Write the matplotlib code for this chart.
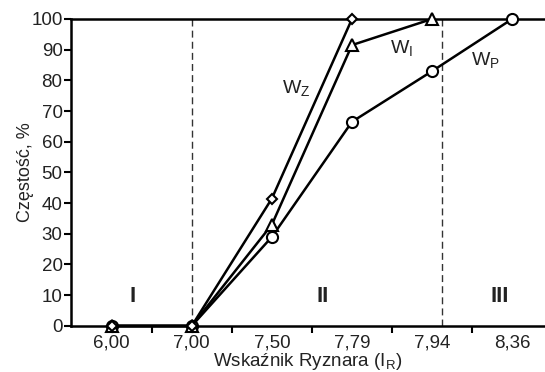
import numpy as np
import matplotlib.pyplot as plt

plt.rcParams['font.family'] = ['Liberation Sans', 'DejaVu Sans']
plt.rcParams['mathtext.fontset'] = 'custom'
plt.rcParams['mathtext.rm'] = 'Liberation Sans'
plt.rcParams['mathtext.it'] = 'Liberation Sans'

# kategorie osi X (wskaznik Ryznara)
categories = ['6,00', '7,00', '7,50', '7,79', '7,94', '8,36']
# czestosc, %
w_z = [0, 0, 41.5, 100]
w_i = [0, 0, 33, 91.5, 100]
w_p = [0, 0, 29, 66.5, 83, 100]
zone_labels = ['I', 'II', 'III']
zone_x = [0.26, 2.63, 4.84]
zone_y = 9.5
zone_borders = [1.0, 4.13]

fig = plt.figure(figsize=(5.45, 3.72), dpi=100)
ax = fig.add_axes([0.130, 0.124, 0.870, 0.825])

style = dict(color='black', lw=1.8, markerfacecolor='white', markeredgecolor='black',
             markeredgewidth=1.5, clip_on=False)
ax.plot(range(len(w_p)), w_p, marker='o', ms=8, zorder=3, **style)
ax.plot(range(len(w_i)), w_i, marker='^', ms=8, zorder=4, **style)
ax.plot(range(len(w_z)), w_z, marker='D', ms=5, zorder=5, **style)

for xb in zone_borders:
    ax.axvline(xb, color='#333333', lw=1.0, ls=(0, (5, 3)), zorder=1)

for lab, xx in zip(zone_labels, zone_x):
    ax.text(xx, zone_y, lab, ha='center', va='center', fontsize=16, fontweight='bold', color='#222222')

ax.text(2.13, 76, r'W$_{\mathrm{Z}}$', fontsize=14, color='#222222')
ax.text(3.48, 89, r'W$_{\mathrm{I}}$', fontsize=14, color='#222222')
ax.text(4.49, 85, r'W$_{\mathrm{P}}$', fontsize=14, color='#222222')

ax.set_xlim(-0.51, 5.41)
ax.set_ylim(0, 100)
ax.set_xticks(range(len(categories)))
ax.set_xticklabels(categories)
ax.set_xticks(np.arange(0.5, 5.0, 1.0), minor=True)
ax.tick_params(axis='x', which='major', length=0, labelsize=13.5, colors='#222222', pad=6)
ax.tick_params(axis='x', which='minor', length=5, width=1.5, direction='out')
ax.set_yticks(range(0, 101, 10))
ax.tick_params(axis='y', length=5, width=1.5, labelsize=13.5, colors='#222222', pad=1)
ax.tick_params(axis='both', which='both', color='black')

for s in ['left', 'bottom', 'top']:
    ax.spines[s].set_linewidth(1.8)
ax.spines['right'].set_visible(False)

ax.set_xlabel(r'Wskaźnik Ryznara (I$_{\mathrm{R}}$)', fontsize=13.5, color='#222222', labelpad=0)
ax.set_ylabel('Częstość, %', fontsize=13, color='#222222', labelpad=-2)

fig.savefig('out.png', dpi=100)
